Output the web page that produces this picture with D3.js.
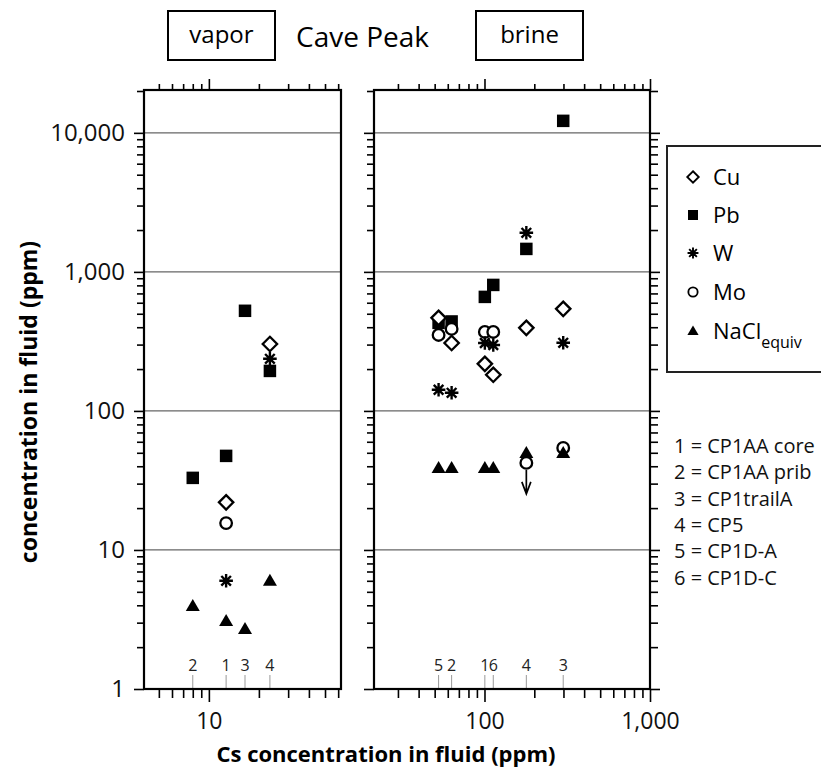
<!DOCTYPE html>
<html><head><meta charset="utf-8">
<script src="https://cdn.jsdelivr.net/npm/d3@7"></script>
<style>body{margin:0;background:#fff;} svg{display:block;font-family:"Open Sans",sans-serif;}</style>
</head><body><svg id="c" width="821" height="771"></svg>
<script>
// ---------- data ----------
const vaporSamples = ["2","1","3","4"];
const vaporCs   = [8.0, 12.7, 16.5, 23.3];
const vaporCu   = [null, 22, null, 303];
const vaporPb   = [33, 47.5, 525, 194];
const vaporW    = [null, 6.0, null, 237];
const vaporMo   = [null, 15.6, null, null];
const vaporNaCl = [3.95, 3.08, 2.7, 6.0];

const brineSamples = ["5","2","1","6","4","3"];
const brineCs   = [52.8, 63.3, 100.5, 113, 179, 299];
const brineCu   = [467, 308, 218, 182, 396, 542];
const brinePb   = [430, 440, 661, 806, 1463, 12200];
const brineW    = [142, 135, 308, 298, 1910, 309];
const brineMo   = [352, 389, 370, 370, 42.3, 54.2];
const brineMoUpperLimit = [false, false, false, false, true, false];
const brineNaCl = [38.9, 38.9, 38.9, 38.9, 49.9, 49.9];

const legendLabels = ["Cu","Pb","W","Mo","NaCl"];
const sampleKey = ["1 = CP1AA core","2 = CP1AA prib","3 = CP1trailA","4 = CP5","5 = CP1D-A","6 = CP1D-C"];
const yMajorTicks = [1, 10, 100, 1000, 10000];
const xLeftMajor = [10];
const xRightMajor = [100, 1000];

// ---------- setup ----------
const svg = d3.select("#c");
const yTop = 91, yBot = 689;
const y = d3.scaleLog().domain([1, 20000]).range([yBot, yTop]);
const xL = d3.scaleLog().domain([4.07, 62.4]).range([144, 341]);
const xR = d3.scaleLog().domain([21.5, 1000]).range([374, 650]);

function minorTicks(domain) {
  const out = [];
  for (let e = -1; e <= 5; e++) for (let m = 2; m <= 9; m++) {
    const v = m * Math.pow(10, e);
    if (v >= domain[0] * 0.999 && v <= domain[1] * 1.001) out.push(v);
  }
  return out;
}

function drawSym(g, type, cx, cy, k) {
  k = k || 1;
  if (type === "Pb") {
    const s = 12.5 * k;
    g.append("rect").attr("x", cx - s/2).attr("y", cy - s/2).attr("width", s).attr("height", s).attr("fill", "#000");
  } else if (type === "Cu") {
    const r = 7.2 * k;
    g.append("path").attr("d", `M${cx},${cy-r}L${cx+r},${cy}L${cx},${cy+r}L${cx-r},${cy}Z`)
      .attr("fill", "#fff").attr("stroke", "#000").attr("stroke-width", 2.3 * k);
  } else if (type === "Mo") {
    g.append("circle").attr("cx", cx).attr("cy", cy).attr("r", 5.8 * k)
      .attr("fill", "#fff").attr("stroke", "#000").attr("stroke-width", 2.3 * k);
  } else if (type === "W") {
    const r = 6.8 * k, d = r * Math.SQRT1_2;
    g.append("path").attr("d", `M${cx-r},${cy}L${cx+r},${cy}M${cx},${cy-r}L${cx},${cy+r}M${cx-d},${cy-d}L${cx+d},${cy+d}M${cx-d},${cy+d}L${cx+d},${cy-d}`)
      .attr("stroke", "#000").attr("stroke-width", 2.4 * k).attr("fill", "none");
  } else if (type === "NaCl") {
    const w = 7 * k, h = 12 * k;
    g.append("path").attr("d", `M${cx},${cy - h*0.58}L${cx + w},${cy + h*0.42}L${cx - w},${cy + h*0.42}Z`).attr("fill", "#000");
  }
}

function panel(x, left, cs, samples, sets, xMajor, labelLeft, moLimit) {
  const [x0, x1] = x.range();
  const g = svg.append("g");
  // gridlines
  g.selectAll(".grid").data([10, 100, 1000, 10000]).enter().append("line")
    .attr("x1", x0).attr("x2", x1).attr("y1", d => y(d)).attr("y2", d => y(d))
    .attr("stroke", "#666").attr("stroke-width", 1.3);
  // sample markers
  g.selectAll(".sl").data(cs).enter().append("line")
    .attr("x1", d => x(d)).attr("x2", d => x(d)).attr("y1", yBot - 14).attr("y2", yBot)
    .attr("stroke", "#999").attr("stroke-width", 1);
  g.selectAll(".st").data(samples).enter().append("text")
    .attr("x", (d, i) => x(cs[i])).attr("y", yBot - 18)
    .attr("text-anchor", "middle").attr("font-size", 16).attr("fill", "#222").text(d => d);
  // points
  const order = ["Pb", "Cu", "Mo", "W", "NaCl"];
  order.forEach(k => {
    const vals = sets[k];
    vals.forEach((v, i) => {
      if (v == null) return;
      drawSym(g, k, x(cs[i]), y(v), 1);
      if (k === "Mo" && moLimit && moLimit[i]) {
        const cx = x(cs[i]), cy = y(v);
        g.append("path").attr("d", `M${cx},${cy+7}L${cx},${cy+31}M${cx-4.5},${cy+19}L${cx},${cy+31}L${cx+4.5},${cy+19}`)
          .attr("stroke", "#000").attr("stroke-width", 1.7).attr("fill", "none");
      }
    });
  });
  // frame
  g.append("rect").attr("x", x0).attr("y", yTop - 1).attr("width", x1 - x0).attr("height", yBot - yTop + 1)
    .attr("fill", "none").attr("stroke", "#000").attr("stroke-width", 2.2);

  const mX = minorTicks(x.domain());
  const mY = minorTicks(y.domain());
  function ax(gen, tr, vals, size, fmt, fs) {
    const a = svg.append("g").attr("transform", tr)
      .call(gen.tickValues(vals).tickSize(size).tickPadding(fs ? 9 : 3).tickFormat(fmt || ""));
    a.select(".domain").remove();
    a.selectAll("line").attr("stroke", "#000").attr("stroke-width", 1.6);
    a.selectAll("text").attr("font-family", "Open Sans").attr("font-size", fs || 0).attr("fill", "#111");
    return a;
  }
  // top
  ax(d3.axisTop(x), `translate(0,${yTop - 1})`, mX, 6);
  ax(d3.axisTop(x), `translate(0,${yTop - 1})`, xMajor, 11);
  // bottom
  ax(d3.axisBottom(x), `translate(0,${yBot})`, mX, 9);
  ax(d3.axisBottom(x), `translate(0,${yBot})`, xMajor, 13, d3.format(","), 23).selectAll("text").attr("dy", "0.8em");
  // left
  ax(d3.axisLeft(y), `translate(${x0},0)`, mY, 7);
  if (labelLeft) ax(d3.axisLeft(y), `translate(${x0},0)`, yMajorTicks, 10, d3.format(","), 24);
  else ax(d3.axisLeft(y), `translate(${x0},0)`, yMajorTicks, 10);
  if (!left) {
    ax(d3.axisRight(y), `translate(${x1},0)`, mY, 8);
    ax(d3.axisRight(y), `translate(${x1},0)`, yMajorTicks, 10);
  }
}

panel(xL, true, vaporCs, vaporSamples,
  {Cu: vaporCu, Pb: vaporPb, W: vaporW, Mo: vaporMo, NaCl: vaporNaCl}, xLeftMajor, true, null);
panel(xR, false, brineCs, brineSamples,
  {Cu: brineCu, Pb: brinePb, W: brineW, Mo: brineMo, NaCl: brineNaCl}, xRightMajor, false, brineMoUpperLimit);

// titles
svg.append("rect").attr("x", 168).attr("y", 11).attr("width", 107).attr("height", 49)
  .attr("fill", "none").attr("stroke", "#000").attr("stroke-width", 2);
svg.append("text").attr("x", 221.5).attr("y", 43).attr("text-anchor", "middle").attr("font-size", 24).text("vapor");
svg.append("text").attr("x", 296).attr("y", 47).attr("font-size", 28).text("Cave Peak");
svg.append("rect").attr("x", 476).attr("y", 11).attr("width", 107).attr("height", 49)
  .attr("fill", "none").attr("stroke", "#000").attr("stroke-width", 2);
svg.append("text").attr("x", 529.5).attr("y", 43).attr("text-anchor", "middle").attr("font-size", 24).text("brine");

// axis titles
svg.append("text").attr("x", 386).attr("y", 762).attr("text-anchor", "middle")
  .attr("font-size", 22).attr("font-weight", "bold").text("Cs concentration in fluid (ppm)");
svg.append("text").attr("transform", "translate(37,402) rotate(-90)").attr("text-anchor", "middle")
  .attr("font-size", 23).attr("font-weight", "bold").text("concentration in fluid (ppm)");

// legend
const lg = svg.append("g");
lg.append("rect").attr("x", 667).attr("y", 146).attr("width", 200).attr("height", 226)
  .attr("fill", "#fff").attr("stroke", "#222").attr("stroke-width", 2);
const legY = [177, 215, 253, 292, 331];
legendLabels.forEach((k, i) => {
  drawSym(lg, k, 693, legY[i], 0.8);
  const t = lg.append("text").attr("x", 713).attr("y", legY[i]).attr("dy", "0.36em").attr("font-size", 22);
  if (k === "NaCl") {
    t.append("tspan").text("NaCl");
    t.append("tspan").attr("font-size", 16).attr("dy", "0.55em").text("equiv");
  } else t.text(k);
});

// sample key
svg.selectAll(".key").data(sampleKey).enter().append("text")
  .attr("x", 674).attr("y", (d, i) => 453 + i * 26.3).attr("font-size", 20).attr("fill", "#111").text(d => d);
</script></body></html>
